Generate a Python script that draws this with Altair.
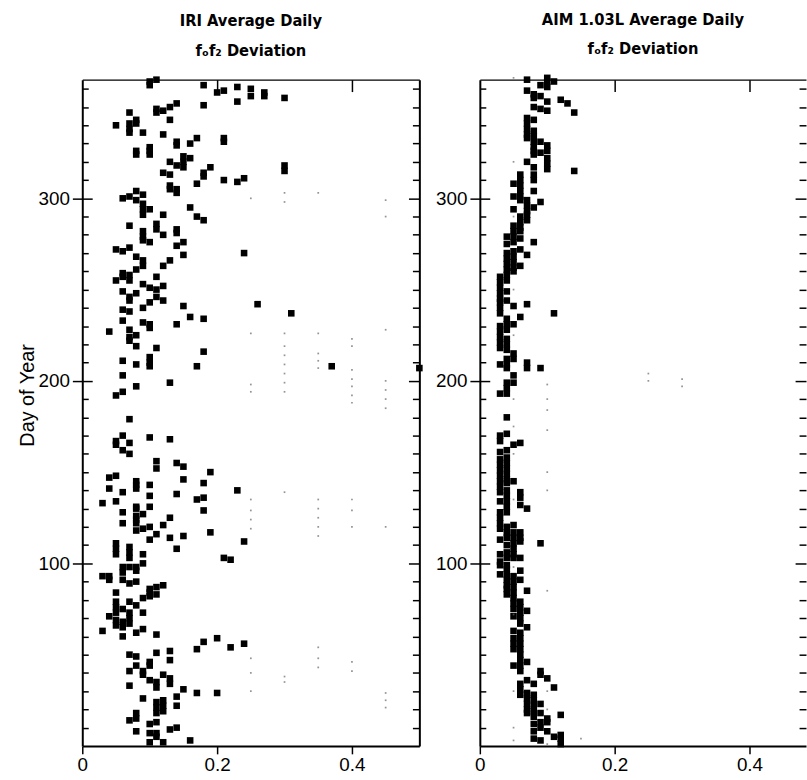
import altair as alt
import pandas as pd

# ---------------- data (deviation column -> days of year) ----------------
iri_cols = [0.03, 0.04, 0.05, 0.06, 0.07, 0.08, 0.09, 0.10, 0.11, 0.12, 0.13, 0.14,
            0.15, 0.16, 0.17, 0.18, 0.19, 0.20, 0.21, 0.22, 0.23, 0.24, 0.25, 0.26,
            0.27, 0.30, 0.31, 0.37, 0.50]
iri_days = [
    [133, 93, 63],
    [227, 147, 141, 93, 91, 71],
    [340, 272, 255, 192, 167, 165, 148, 134, 111, 108, 105, 84, 79, 76, 73, 69, 66],
    [300, 271, 259, 257, 249, 239, 233, 211, 203, 194, 170, 162, 139, 128, 122, 98, 95, 91, 75, 68, 65, 60],
    [347, 341, 338, 336, 301, 285, 273, 258, 255, 246, 244, 238, 228, 224, 222, 179, 166, 160, 109, 106,
     103, 98, 89, 79, 73, 70, 67, 50, 41, 33, 14],
    [343, 341, 326, 324, 304, 299, 268, 261, 248, 225, 219, 209, 197, 145, 143, 141, 131, 130, 126, 124,
     122, 118, 98, 96, 90, 77, 62, 49, 44, 18, 15, 8],
    [336, 302, 297, 294, 291, 282, 279, 277, 266, 263, 253, 240, 232, 127, 119, 105, 100, 81, 73, 64, 41, 39, 26],
    [364, 362, 328, 326, 324, 294, 276, 251, 243, 231, 229, 213, 210, 208, 169, 143, 137, 131, 120, 113,
     86, 84, 82, 46, 44, 36, 12, 7, 2],
    [365, 349, 347, 286, 283, 257, 250, 246, 218, 156, 152, 116, 87, 83, 61, 51, 35, 32, 24, 21, 18, 13, 7, 5],
    [348, 335, 314, 291, 280, 263, 252, 244, 121, 88, 39, 25, 22, 19, 2],
    [350, 343, 320, 313, 307, 305, 266, 199, 168, 125, 114, 52, 47, 37, 34, 9],
    [352, 331, 329, 318, 305, 303, 283, 281, 274, 231, 155, 138, 108, 27, 22, 10],
    [323, 320, 317, 276, 269, 241, 153, 146, 115, 31],
    [330, 322, 295, 235, 3],
    [333, 308, 290, 208, 135, 53, 29],
    [362, 351, 314, 312, 288, 234, 216, 144, 136, 129, 57],
    [317, 150, 117],
    [358, 59, 29],
    [359, 333, 331, 310, 103],
    [102, 54],
    [361, 353, 309, 140],
    [311, 270, 112, 56],
    [360, 356],
    [242],
    [358, 356],
    [355, 318, 315],
    [237],
    [208],
    [207],
]

aim_cols = [0.03, 0.04, 0.05, 0.06, 0.07, 0.08, 0.09, 0.10, 0.11, 0.12, 0.13, 0.14]
aim_days = [
    [257, 254, 251, 248, 245, 243, 240, 237, 230, 227, 224, 221, 218, 209, 193, 170, 167, 161, 157, 154,
     151, 148, 145, 142, 139, 134, 128, 125, 122, 119, 113, 105, 101, 99, 94],
    [279, 275, 270, 267, 264, 261, 258, 255, 249, 244, 234, 231, 228, 223, 220, 217, 212, 209, 207, 199,
     196, 193, 180, 171, 162, 158, 155, 152, 149, 146, 144, 140, 137, 134, 131, 128, 120, 117, 114, 110,
     106, 103, 99, 97, 94, 91, 88, 86, 83],
    [308, 301, 294, 285, 282, 279, 276, 271, 268, 265, 262, 260, 241, 231, 215, 212, 203, 199, 165, 145,
     121, 117, 114, 111, 108, 105, 103, 93, 90, 87, 84, 81, 78, 75, 71, 63, 59, 56, 53, 44],
    [313, 310, 307, 304, 301, 299, 290, 287, 284, 282, 278, 272, 263, 235, 166, 139, 136, 132, 117, 114,
     112, 103, 96, 91, 79, 76, 73, 70, 67, 62, 59, 56, 53, 50, 47, 44, 41, 34, 31, 28],
    [365, 359, 344, 341, 338, 335, 333, 320, 299, 296, 293, 291, 288, 269, 242, 210, 207, 130, 85, 74,
     65, 46, 36, 29, 26, 23, 20, 18],
    [357, 355, 350, 343, 337, 334, 331, 328, 326, 324, 317, 313, 310, 304, 295, 276, 34, 28, 25, 22,
     19, 16, 12, 8, 4],
    [362, 356, 349, 331, 325, 298, 207, 111, 41, 39, 23, 18, 13, 10, 3],
    [366, 364, 361, 353, 348, 329, 326, 322, 319, 316, 37, 15, 13, 8],
    [364, 237, 32, 5],
    [354, 17, 6, 4, 1],
    [352],
    [347, 315],
]

# faint specks (tiny marks) seen in the scan
iri_faint_cols = [0.25, 0.30, 0.35, 0.40, 0.45]
iri_faint_days = [
    [300, 226, 198, 194, 135, 129, 124, 119, 48, 40, 30],
    [303, 298, 226, 219, 214, 209, 204, 199, 194, 139, 38, 35],
    [303, 226, 215, 211, 207, 135, 130, 125, 120, 115, 54, 48, 43],
    [223, 219, 206, 201, 197, 192, 188, 135, 129, 120, 46, 41],
    [299, 290, 228, 200, 195, 190, 185, 120, 29, 25, 21],
]
aim_faint_cols = [0.05, 0.10, 0.15, 0.25, 0.30]
aim_faint_days = [
    [366, 320, 290, 250, 225, 190, 175, 160, 135, 98, 72, 30, 10, 3],
    [198, 190, 184, 173, 150, 140, 85, 30, 20, 1],
    [4],
    [204, 200],
    [201, 197],
]

y_major = [100, 200, 300]
y_minor = list(range(10, 361, 10))
x_ticks = [0, 0.2, 0.4]


def to_df(cols, days):
    return pd.DataFrame([{"dev": c, "day": d} for c, ds in zip(cols, days) for d in ds])


H = 672
W1, XMAX1 = 340, 0.5
W2 = 329
XMAX2 = W2 / 680.0

FONT_AX = "Liberation Sans, Arial, sans-serif"
FONT_T = "DejaVu Sans Condensed, Liberation Sans Narrow, sans-serif"
LABEL_EXPR = "datum.value == 0 ? '0' : format(datum.value, '.1f')"


def cond_size(major, minor):
    return {"condition": {"test": "datum.value % 100 === 0", "value": major}, "value": minor}


def panel(df, fdf, title, w, xmax, ytitle, right_domain):
    xs = alt.Scale(domain=[0, xmax], nice=False, zero=True)
    ys = alt.Scale(domain=[0, 365], nice=False, zero=True)
    main = alt.Chart(df).mark_square(size=44, color="black", opacity=1).encode(
        x=alt.X("dev:Q", scale=xs,
                axis=alt.Axis(orient="bottom", values=x_ticks, labelExpr=LABEL_EXPR, tickSize=8,
                              labelPadding=2, domainWidth=2, title=None, labelFlush=False)),
        y=alt.Y("day:Q", scale=ys,
                axis=alt.Axis(orient="left", values=y_major, tickSize=10, labelPadding=3,
                              domainWidth=2, title=ytitle, titlePadding=1, titleY=318)),
    )
    faint = alt.Chart(fdf).mark_square(size=3, color="#666666", opacity=0.7).encode(
        x=alt.X("dev:Q", scale=xs,
                axis=alt.Axis(orient="bottom", offset=-H, values=[0.2, 0.4], tickSize=12,
                              labels=False, title=None, domainWidth=1.2)),
        y=alt.Y("day:Q", scale=ys,
                axis=alt.Axis(orient="right", offset=-w, values=y_minor, tickSize=cond_size(10, 6),
                              labels=False, domain=False, title=None)),
    )
    edge = alt.Chart(df).mark_point(opacity=0).encode(
        x=alt.X("dev:Q", scale=xs, axis=None),
        y=alt.Y("day:Q", scale=ys,
                axis=alt.Axis(orient="left", offset=-w, values=y_minor, tickSize=cond_size(11, 7),
                              labels=False, domain=right_domain, domainWidth=2, title=None)),
    )
    return alt.layer(main, faint, edge).resolve_axis(x="independent", y="independent").properties(
        width=w, height=H,
        title=alt.TitleParams(title, font=FONT_T, fontSize=16.5, fontWeight="bold",
                              lineHeight=30, anchor="middle", offset=17, color="black"),
    )


left = panel(to_df(iri_cols, iri_days), to_df(iri_faint_cols, iri_faint_days),
             ["IRI Average Daily", "f\u2092f\u2082 Deviation"], W1, XMAX1, "Day of Year", True)
right = panel(to_df(aim_cols, aim_days), to_df(aim_faint_cols, aim_faint_days),
              ["AIM 1.03L Average Daily", "f\u2092f\u2082 Deviation"], W2, XMAX2, None, False)

chart = alt.hconcat(left, right, spacing=12).properties(
    padding={"left": 17, "top": 8, "right": 0, "bottom": 0}
).configure_view(stroke=None).configure_axis(
    grid=False, labelFont=FONT_AX, labelFontSize=19, labelColor="black",
    tickColor="black", domainColor="black", tickWidth=1.5,
    titleFont=FONT_AX, titleFontSize=20, titleFontWeight="normal", titleColor="black",
)

chart.save("out.html", embed_options={"renderer": "svg", "actions": False})
